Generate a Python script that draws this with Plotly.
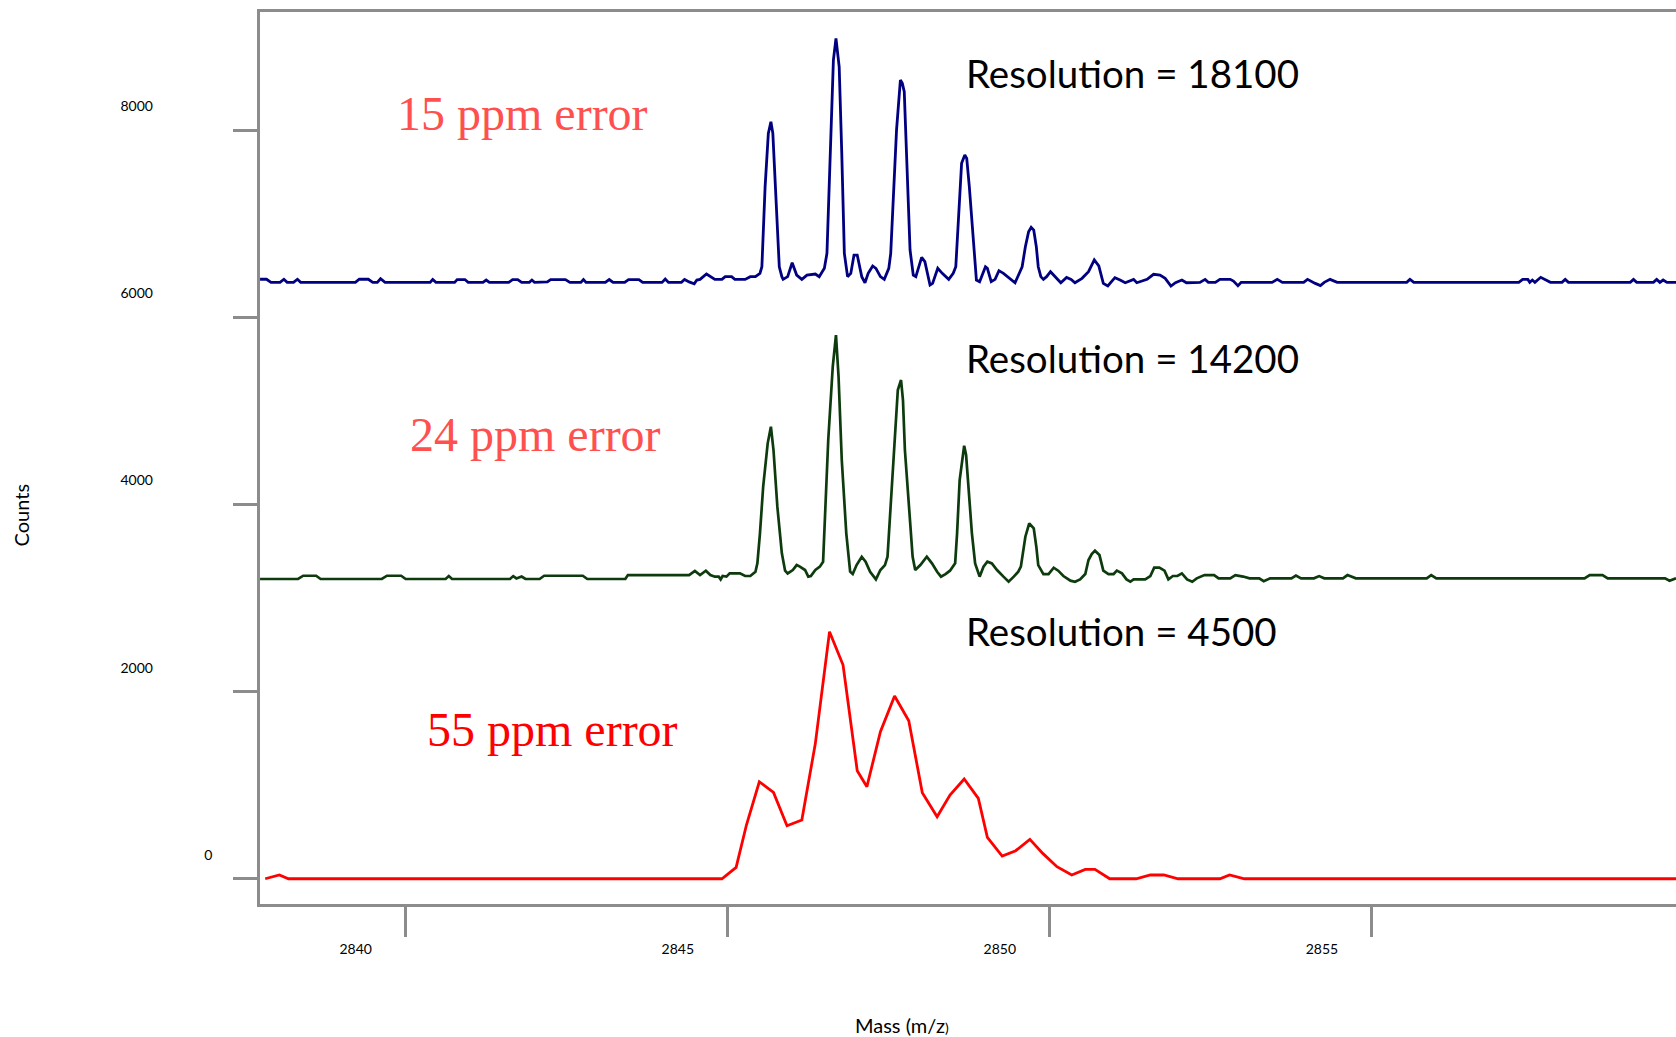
import plotly.graph_objects as go

# ---------------- data (m/z, counts) ----------------
mz_18100 = [2837.74, 2837.84, 2837.91, 2838.05, 2838.11, 2838.16, 2838.26, 2838.32, 2838.37, 2839.22, 2839.28,
            2839.42, 2839.49, 2839.56, 2839.61, 2839.68, 2840.38, 2840.42, 2840.47, 2840.76, 2840.80, 2840.92,
            2840.97, 2841.20, 2841.25, 2841.30, 2841.60, 2841.66, 2841.74, 2841.80, 2841.92, 2841.96, 2842.00,
            2842.20, 2842.25, 2842.48, 2842.55, 2842.72, 2842.76, 2842.80, 2843.10, 2843.16, 2843.22, 2843.40,
            2843.46, 2843.62, 2843.68, 2843.98, 2844.03, 2844.08, 2844.28, 2844.33, 2844.40, 2844.48, 2844.52,
            2844.57, 2844.67, 2844.80, 2844.91, 2844.96, 2845.06, 2845.11, 2845.27, 2845.35, 2845.43, 2845.50,
            2845.53, 2845.58, 2845.63, 2845.67, 2845.70, 2845.75, 2845.80, 2845.84, 2845.86, 2845.93, 2846.00,
            2846.07, 2846.15, 2846.23, 2846.36, 2846.42, 2846.50, 2846.54, 2846.59, 2846.64, 2846.68, 2846.73,
            2846.77, 2846.81, 2846.86, 2846.91, 2846.96, 2847.01, 2847.08, 2847.13, 2847.18, 2847.25, 2847.30,
            2847.37, 2847.43, 2847.50, 2847.53, 2847.57, 2847.62, 2847.68, 2847.71, 2847.74, 2847.78, 2847.83,
            2847.88, 2847.92, 2848.01, 2848.06, 2848.14, 2848.18, 2848.26, 2848.33, 2848.43, 2848.50, 2848.54,
            2848.58, 2848.63, 2848.68, 2848.71, 2848.75, 2848.79, 2848.83, 2848.86, 2848.91, 2849.00, 2849.03,
            2849.09, 2849.15, 2849.21, 2849.28, 2849.36, 2849.46, 2849.57, 2849.62, 2849.67, 2849.71, 2849.75,
            2849.79, 2849.82, 2849.86, 2849.90, 2849.95, 2850.01, 2850.08, 2850.17, 2850.26, 2850.33, 2850.39,
            2850.50, 2850.60, 2850.65, 2850.69, 2850.76, 2850.80, 2850.83, 2850.90, 2851.01, 2851.09, 2851.17,
            2851.30, 2851.35, 2851.51, 2851.61, 2851.71, 2851.79, 2851.88, 2851.95, 2852.05, 2852.12, 2852.33,
            2852.41, 2852.46, 2852.57, 2852.64, 2852.80, 2852.85, 2852.92, 2852.97, 2853.45, 2853.53, 2853.61,
            2853.94, 2854.00, 2854.12, 2854.20, 2854.26, 2854.35, 2854.46, 2855.54, 2855.59, 2855.65, 2857.28,
            2857.34, 2857.42, 2857.45, 2857.49, 2857.53, 2857.62, 2857.77, 2857.95, 2858.00, 2858.05, 2859.01,
            2859.06, 2859.11, 2859.37, 2859.42, 2859.47, 2859.52, 2859.58, 2859.72]
counts_18100 = [6408, 6408, 6375, 6375, 6408, 6375, 6375, 6408, 6375, 6375, 6408,
                6408, 6375, 6375, 6414, 6375, 6375, 6405, 6375, 6375, 6405, 6405,
                6375, 6375, 6400, 6375, 6375, 6405, 6405, 6375, 6375, 6400, 6375,
                6380, 6405, 6405, 6375, 6375, 6405, 6375, 6375, 6405, 6375, 6375,
                6405, 6405, 6375, 6375, 6410, 6375, 6375, 6405, 6380, 6360, 6400,
                6407, 6464, 6407, 6407, 6436, 6436, 6407, 6407, 6436, 6436, 6471,
                6542, 7398, 7968, 8092, 7968, 7184, 6542, 6436, 6407, 6436, 6585,
                6453, 6407, 6453, 6464, 6436, 6525, 6685, 7754, 8751, 8983, 8680,
                7754, 6685, 6436, 6471, 6667, 6667, 6436, 6371, 6471, 6550, 6525,
                6436, 6407, 6525, 6685, 7291, 8003, 8538, 8502, 8413, 7683, 6721,
                6453, 6436, 6642, 6596, 6346, 6364, 6525, 6471, 6407, 6471, 6542,
                7041, 7647, 7736, 7700, 7398, 7006, 6614, 6400, 6382, 6542, 6525,
                6382, 6407, 6500, 6471, 6425, 6371, 6542, 6756, 6917, 6963, 6934,
                6756, 6542, 6436, 6407, 6436, 6489, 6436, 6371, 6428, 6407, 6371,
                6418, 6489, 6560, 6614, 6550, 6436, 6364, 6336, 6425, 6400, 6371,
                6407, 6371, 6407, 6461, 6453, 6418, 6336, 6371, 6400, 6371, 6375,
                6407, 6375, 6375, 6407, 6407, 6389, 6340, 6375, 6375, 6407, 6375,
                6375, 6407, 6364, 6340, 6375, 6407, 6375, 6375, 6407, 6375, 6375,
                6407, 6407, 6375, 6400, 6375, 6429, 6375, 6375, 6407, 6375, 6375,
                6407, 6375, 6375, 6407, 6375, 6400, 6375, 6375]

mz_14200 = [2837.74, 2838.33, 2838.41, 2838.61, 2838.68, 2839.63, 2839.71, 2839.93, 2840.00, 2840.62, 2840.67,
            2840.72, 2841.62, 2841.67, 2841.72, 2841.80, 2841.86, 2842.08, 2842.15, 2842.75, 2842.82, 2843.16,
            2843.41, 2843.45, 2844.40, 2844.49,
            2844.57, 2844.66, 2844.73, 2844.80, 2844.86, 2844.89, 2844.92, 2844.98, 2845.03, 2845.19, 2845.27,
            2845.35, 2845.43, 2845.46, 2845.50, 2845.55, 2845.62, 2845.67, 2845.71, 2845.77, 2845.84, 2845.89,
            2845.93, 2846.01, 2846.07, 2846.12, 2846.20, 2846.25, 2846.29, 2846.36, 2846.43, 2846.48, 2846.51,
            2846.56, 2846.63, 2846.68, 2846.72, 2846.77, 2846.84, 2846.90, 2846.94, 2847.00, 2847.08, 2847.14,
            2847.21, 2847.26, 2847.30, 2847.37, 2847.44, 2847.48, 2847.52, 2847.57, 2847.64, 2847.69, 2847.72,
            2847.75, 2847.82, 2847.87, 2847.91, 2847.99, 2848.09, 2848.17, 2848.25, 2848.31, 2848.38, 2848.45,
            2848.53, 2848.56, 2848.60, 2848.63, 2848.67, 2848.70, 2848.74, 2848.79, 2848.84, 2848.91, 2848.97,
            2849.03, 2849.10, 2849.18, 2849.28, 2849.36, 2849.44, 2849.51, 2849.55, 2849.59, 2849.62, 2849.68,
            2849.75, 2849.79, 2849.82, 2849.90, 2849.98, 2850.06, 2850.13, 2850.21, 2850.32, 2850.39, 2850.47,
            2850.55, 2850.60, 2850.65, 2850.70, 2850.77, 2850.83, 2850.91, 2850.99, 2851.04, 2851.12, 2851.19,
            2851.25, 2851.30, 2851.48, 2851.56, 2851.62, 2851.70, 2851.78, 2851.84, 2851.91, 2851.98, 2852.05,
            2852.13, 2852.21, 2852.28,
            2852.40, 2852.55, 2852.62, 2852.80, 2852.88, 2853.00, 2853.10, 2853.25, 2853.32, 2853.42, 2853.75,
            2853.82, 2853.90, 2854.10, 2854.18, 2854.26, 2854.55, 2854.62, 2854.75, 2855.85, 2855.92, 2856.00,
            2858.30, 2858.38, 2858.58, 2858.66, 2859.55, 2859.62, 2859.72]
counts_14200 = [3204, 3204, 3239, 3239, 3204, 3204, 3239, 3239, 3204, 3204, 3235,
                3204, 3204, 3235, 3210, 3230, 3204, 3204, 3239, 3239, 3204, 3204,
                3204, 3246, 3246, 3291,
                3247, 3293, 3247, 3229, 3229, 3200, 3236, 3229, 3264, 3264, 3236,
                3236, 3282, 3371, 3692, 4191, 4654, 4832, 4583, 3977, 3478, 3293,
                3264, 3300, 3353, 3336, 3300, 3229, 3236, 3300, 3336, 3389, 3870,
                4690, 5473, 5812, 5367, 4476, 3692, 3282, 3257, 3353, 3442, 3389,
                3282, 3229, 3200, 3300, 3353, 3442, 3870, 4476, 5224, 5331, 5117,
                4583, 3870, 3442, 3300, 3353, 3442, 3371, 3282, 3229, 3257, 3293,
                3371, 3692, 4262, 4404, 4629, 4529, 4119, 3692, 3371, 3229, 3336,
                3389, 3371, 3300, 3229, 3175, 3229, 3282, 3336, 3514, 3656, 3799,
                3745, 3549, 3353, 3257, 3257, 3325, 3293, 3236, 3186, 3175, 3200,
                3257, 3407, 3471, 3507, 3460, 3293, 3257, 3257, 3293, 3264, 3200,
                3175, 3200, 3200, 3236, 3325, 3325, 3293, 3200, 3236, 3236, 3264,
                3200, 3175, 3211,
                3246, 3246, 3211, 3211, 3246, 3230, 3211, 3211, 3180, 3211, 3211,
                3240, 3211, 3211, 3235, 3211, 3211, 3246, 3211, 3211, 3246, 3211,
                3211, 3246, 3246, 3211, 3211, 3185, 3211]

mz_4500 = [2837.82, 2838.04, 2838.18, 2844.91, 2845.13, 2845.29, 2845.49, 2845.71, 2845.92, 2846.15, 2846.36,
           2846.58, 2846.79, 2847.01, 2847.16, 2847.37, 2847.59, 2847.81, 2848.02, 2848.25, 2848.45, 2848.67,
           2848.89, 2849.03, 2849.26, 2849.47, 2849.69, 2849.89, 2850.11, 2850.34, 2850.55, 2850.70, 2850.93,
           2851.34, 2851.56, 2851.77, 2851.99, 2852.64, 2852.79, 2853.02, 2859.72]
counts_4500 = [0, 40, 0, 0, 121, 574, 1037, 923, 567, 627, 1447,
               2641, 2284, 1155, 984, 1572, 1953, 1689, 920, 663, 895, 1066,
               859, 442, 243, 300, 421, 271, 129, 40, 100, 100, 0,
               0, 40, 40, 0, 0, 40, 0, 0]

x_ticks = [2840, 2845, 2850, 2855]
x_ticktext = ["2840", "2845", "2850", "2855"]
y_ticks = [0, 2000, 4000, 6000, 8000]
pad = "\u2003" * 5 + "\u2002"
y_ticktext = ["0", "2000" + pad, "4000" + pad, "6000" + pad, "8000" + pad]

resolution_labels = ["Resolution = 18100", "Resolution = 14200", "Resolution = 4500"]
error_labels = ["15 ppm error", "24 ppm error", "55 ppm error"]

# ---------------- figure ----------------
AXIS = "#8c8c8c"
fig = go.Figure()
fig.add_trace(go.Scatter(x=mz_18100, y=counts_18100, mode="lines",
                         line=dict(color="#000080", width=2.8), name="R 18100"))
fig.add_trace(go.Scatter(x=mz_14200, y=counts_14200, mode="lines",
                         line=dict(color="#0d3b0d", width=2.7), name="R 14200"))
fig.add_trace(go.Scatter(x=mz_4500, y=counts_4500, mode="lines",
                         line=dict(color="#ff0000", width=2.8), name="R 4500"))

res_pos = [(2848.67, 8615), (2848.67, 5570), (2848.67, 2644)]
for (x, y), t in zip(res_pos, resolution_labels):
    fig.add_annotation(x=x, y=y, xref="x", yref="y", text=t, showarrow=False,
                       xanchor="left", yanchor="middle",
                       font=dict(family="Lato", size=38.5, color="black"))

err_pos = [(2839.83, 8180), (2840.04, 4745), (2840.30, 1593)]
err_col = ["#ff5050", "#ff5050", "#ff0000"]
for (x, y), t, c in zip(err_pos, error_labels, err_col):
    fig.add_annotation(x=x, y=y, xref="x", yref="y", text=t, showarrow=False,
                       xanchor="left", yanchor="middle",
                       font=dict(family="Liberation Serif", size=48, color=c))

fig.add_annotation(x=-0.1688, y=0.4367, xref="paper", yref="paper", text="Counts",
                   textangle=-90, showarrow=False, xanchor="center", yanchor="middle",
                   font=dict(family="Lato", size=20, color="black"))
fig.add_annotation(x=0.4534, y=-0.1357, xref="paper", yref="paper",
                   text="Mass (m/z<span style='font-size:14px'>)</span>",
                   showarrow=False, xanchor="center", yanchor="middle",
                   font=dict(family="Lato", size=20, color="black"))

fig.update_layout(
    width=1676, height=1037,
    margin=dict(l=260, r=0, t=12, b=133, pad=0),
    plot_bgcolor="white", paper_bgcolor="white",
    showlegend=False,
    font=dict(family="Lato", color="black"),
)
fig.update_xaxes(range=[2837.739, 2859.72], showline=True, linecolor=AXIS, linewidth=2.5,
                 mirror=True, ticks="outside", ticklen=30, tickwidth=2.5, tickcolor=AXIS,
                 showgrid=False, zeroline=False, tickvals=x_ticks, ticktext=x_ticktext,
                 tickfont=dict(family="Lato", size=14, color="black"),
                 ticklabelshift=-50, ticklabelstandoff=0)
fig.update_yaxes(range=[-270, 9265], showline=True, linecolor=AXIS, linewidth=2.5,
                 ticks="outside", ticklen=24, tickwidth=2.5, tickcolor=AXIS,
                 showgrid=False, zeroline=False, tickvals=y_ticks, ticktext=y_ticktext,
                 tickfont=dict(family="Lato", size=14, color="black"),
                 ticklabelshift=-24, ticklabelstandoff=18)

fig.write_html("out.html", config={"displayModeBar": False},
               post_script="document.body.style.margin='0';document.body.style.padding='0';")
